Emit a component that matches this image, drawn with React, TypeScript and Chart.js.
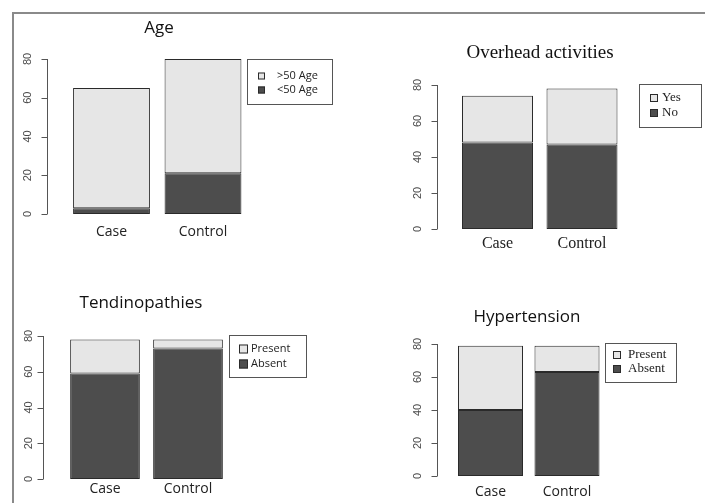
import React, { useEffect, useRef } from "react";
import { Chart, registerables } from "chart.js";
Chart.register(...registerables);

const categories = ["Case", "Control"];
const yTicks = [0, 20, 40, 60, 80];

const ageUnder50 = [3, 21];
const ageOver50 = [62, 59];
const overheadNo = [48, 47];
const overheadYes = [26, 31];
const tendAbsent = [59, 73];
const tendPresent = [19, 5];
const hyperAbsent = [40, 63];
const hyperPresent = [39, 16];

const DARK = "#4d4d4d";
const LIGHT = "#e6e6e6";
const EDGE = "#2a2a2a";
const W = 705;
const H = 503;
const SANS = "'Open Sans', 'DejaVu Sans', sans-serif";
const SERIF = "'Liberation Serif', 'DejaVu Serif', serif";

type Panel = {
  title: string;
  titleFont: string;
  titleX: number;
  titleY: number;
  area: [number, number, number, number];
  barPct: number;
  axisGap: number;
  labelGap: number;
  catFont: string;
  catY: number;
  legend: { x: number; y: number; w: number; h: number; font: string; rows: [number, number]; boxX: number; box: number; textX: number };
  lower: number[];
  upper: number[];
  lowerLabel: string;
  upperLabel: string;
};

const panels: Panel[] = [
  {
    title: "Age",
    titleFont: `17px ${SANS}`,
    titleX: 159,
    titleY: 33,
    area: [65.75, 59, 248.75, 214],
    barPct: 0.84,
    axisGap: 18.75,
    labelGap: 37.75,
    catFont: `14px ${SANS}`,
    catY: 236,
    legend: { x: 247, y: 59, w: 85, h: 45, font: `11px ${SANS}`, rows: [76, 90], boxX: 258, box: 7, textX: 277 },
    lower: ageUnder50,
    upper: ageOver50,
    lowerLabel: "<50 Age",
    upperLabel: ">50 Age",
  },
  {
    title: "Overhead activities",
    titleFont: `19px ${SERIF}`,
    titleX: 540,
    titleY: 58,
    area: [455.25, 85, 624.25, 229],
    barPct: 0.84,
    axisGap: 18.25,
    labelGap: 37.25,
    catFont: `16px ${SERIF}`,
    catY: 248,
    legend: { x: 639, y: 84, w: 62, h: 43, font: `13px ${SERIF}`, rows: [98, 113], boxX: 650, box: 8, textX: 662 },
    lower: overheadNo,
    upper: overheadYes,
    lowerLabel: "No",
    upperLabel: "Yes",
  },
  {
    title: "Tendinopathies",
    titleFont: `17px ${SANS}`,
    titleX: 141,
    titleY: 308,
    area: [63.5, 336, 229.5, 479],
    barPct: 0.84,
    axisGap: 20.5,
    labelGap: 34.5,
    catFont: `14px ${SANS}`,
    catY: 493,
    legend: { x: 229, y: 335, w: 77, h: 42, font: `11px ${SANS}`, rows: [349, 364], boxX: 239, box: 9, textX: 251 },
    lower: tendAbsent,
    upper: tendPresent,
    lowerLabel: "Absent",
    upperLabel: "Present",
  },
  {
    title: "Hypertension",
    titleFont: `17px ${SANS}`,
    titleX: 527,
    titleY: 322,
    area: [452.25, 344, 605.25, 476],
    barPct: 0.85,
    axisGap: 15.25,
    labelGap: 34.25,
    catFont: `14px ${SANS}`,
    catY: 496,
    legend: { x: 605, y: 343, w: 71, h: 39, font: `13px ${SERIF}`, rows: [355, 369], boxX: 613, box: 8, textX: 628 },
    lower: hyperAbsent,
    upper: hyperPresent,
    lowerLabel: "Absent",
    upperLabel: "Present",
  },
];

function makeDecor(p: Panel) {
  return {
    id: "rdecor",
    afterDraw(chart: any) {
      const ctx = chart.ctx as CanvasRenderingContext2D;
      const ys = chart.scales.y;
      const xs = chart.scales.x;
      const area = chart.chartArea;
      const axisX = Math.round(area.left - p.axisGap) + 0.5;
      ctx.save();
      // y axis
      ctx.strokeStyle = "#555555";
      ctx.lineWidth = 1;
      ctx.beginPath();
      ctx.moveTo(axisX, ys.getPixelForValue(yTicks[0]));
      ctx.lineTo(axisX, ys.getPixelForValue(yTicks[yTicks.length - 1]));
      for (const v of yTicks) {
        const py = Math.round(ys.getPixelForValue(v)) + 0.5;
        ctx.moveTo(axisX - 6, py);
        ctx.lineTo(axisX, py);
      }
      ctx.stroke();
      ctx.fillStyle = "#4a4a4a";
      ctx.font = `11px 'Liberation Sans', Arial, sans-serif`;
      ctx.textAlign = "center";
      ctx.textBaseline = "middle";
      for (const v of yTicks) {
        const py = ys.getPixelForValue(v);
        ctx.save();
        ctx.translate(area.left - p.labelGap, py);
        ctx.rotate(-Math.PI / 2);
        ctx.fillText(String(v), 0, 0);
        ctx.restore();
      }
      // category labels
      ctx.fillStyle = "#222222";
      ctx.font = p.catFont;
      ctx.textBaseline = "alphabetic";
      categories.forEach((c, i) => {
        ctx.fillText(c, xs.getPixelForValue(i), p.catY);
      });
      // title
      ctx.font = p.titleFont;
      ctx.fillStyle = "#111111";
      ctx.fillText(p.title, p.titleX, p.titleY);
      // legend
      const L = p.legend;
      ctx.strokeStyle = "#555555";
      ctx.lineWidth = 1;
      ctx.strokeRect(L.x + 0.5, L.y + 0.5, L.w, L.h);
      const entries = [
        { label: p.upperLabel, color: LIGHT },
        { label: p.lowerLabel, color: DARK },
      ];
      ctx.font = L.font;
      ctx.textAlign = "left";
      ctx.textBaseline = "middle";
      entries.forEach((e, i) => {
        const cy = L.rows[i];
        ctx.fillStyle = e.color;
        ctx.fillRect(L.boxX, cy - L.box / 2, L.box, L.box);
        ctx.strokeStyle = EDGE;
        ctx.strokeRect(L.boxX + 0.5, cy - L.box / 2 + 0.5, L.box - 1, L.box - 1);
        ctx.fillStyle = "#222222";
        ctx.fillText(e.label, L.textX, cy);
      });
      ctx.restore();
    },
  };
}

function PanelChart({ p }: { p: Panel }) {
  const ref = useRef<HTMLCanvasElement | null>(null);
  useEffect(() => {
    if (!ref.current) return;
    const [l, t, r, b] = p.area;
    const chart = new Chart(ref.current, {
      type: "bar",
      data: {
        labels: categories,
        datasets: [
          {
            label: p.lowerLabel,
            data: p.lower,
            backgroundColor: DARK,
            borderColor: EDGE,
            borderWidth: 1,
            borderSkipped: false,
            barPercentage: p.barPct,
            categoryPercentage: 1,
          },
          {
            label: p.upperLabel,
            data: p.upper,
            backgroundColor: LIGHT,
            borderColor: EDGE,
            borderWidth: 1,
            borderSkipped: false,
            barPercentage: p.barPct,
            categoryPercentage: 1,
          },
        ],
      },
      options: {
        responsive: false,
        animation: false,
        devicePixelRatio: 1,
        layout: { padding: { left: l, top: t, right: W - r, bottom: H - b } },
        scales: {
          x: { display: false, stacked: true },
          y: { display: false, stacked: true, min: 0, max: 80 },
        },
        plugins: { legend: { display: false }, tooltip: { enabled: false }, title: { display: false } },
      },
      plugins: [makeDecor(p)],
    } as any);
    return () => chart.destroy();
  }, [p]);
  return <canvas ref={ref} width={W} height={H} style={{ position: "absolute", left: 0, top: 0, width: W, height: H }} />;
}

export default function App() {
  return (
    <div style={{ position: "absolute", left: 0, top: 0, width: W, height: H, background: "#ffffff", overflow: "hidden" }}>
      <div style={{ position: "absolute", left: 12, top: 12, width: W - 12, height: H - 12, borderTop: "2px solid #8a8a8a", borderLeft: "2px solid #8a8a8a", boxSizing: "border-box" }} />
      {panels.map((p) => (
        <PanelChart key={p.title} p={p} />
      ))}
    </div>
  );
}
